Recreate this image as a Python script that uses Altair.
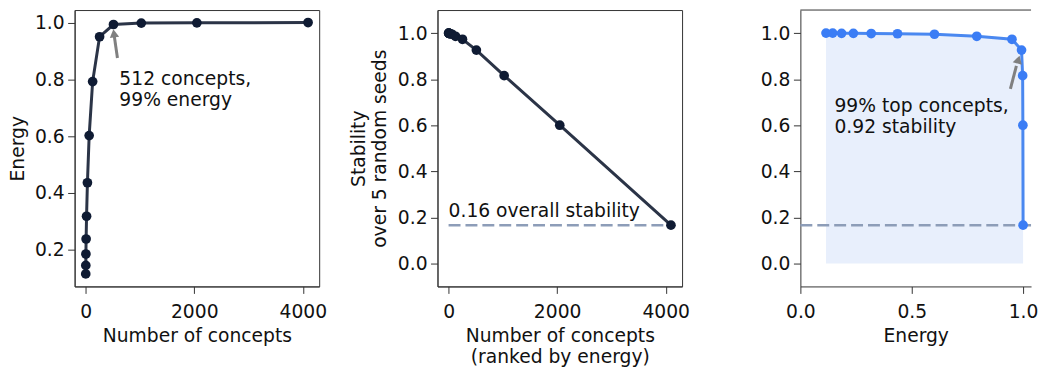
import altair as alt
import pandas as pd

# ---- data ----
concepts = [1, 2, 4, 8, 16, 32, 64, 128, 256, 512, 1024, 2048, 4096]
energy = [0.115, 0.145, 0.185, 0.238, 0.318, 0.436, 0.602, 0.792, 0.950, 0.993, 0.998, 0.999, 1.0]
stability = [1.0, 1.0, 0.999, 0.999, 0.998, 0.997, 0.995, 0.986, 0.973, 0.926, 0.815, 0.600, 0.166]
overall_stability = 0.166

ann1_lines = ["512 concepts,", "99% energy"]
ann2_lines = ["0.16 overall stability"]
ann3_lines = ["99% top concepts,", "0.92 stability"]

df = pd.DataFrame({"concepts": concepts, "energy": energy, "stability": stability})

DARK_LINE = "#2b3447"
DARK_PT = "#0f1b33"
BLUE_LINE = "#4a88f0"
BLUE_PT = "#3b7df5"
FILL = "#e8effc"
DASH = "#8d9db8"
ARROW = "#808080"
TXT = "#111111"
SPINE = "#333333"
FONT = "DejaVu Sans"
FS = 18.8

W = 246
W3 = 232
H = 278

# ---------- panel 1 ----------
xs1 = alt.Scale(domain=[-204, 4301], nice=False, zero=False)
ys1 = alt.Scale(domain=[0.071, 1.044], nice=False, zero=False)
ax1 = alt.Axis(values=[0, 2000, 4000], format="d", title="Number of concepts")
ay1 = alt.Axis(values=[0.2, 0.4, 0.6, 0.8, 1.0], format=".1f", title="Energy", titlePadding=7)


def X1(f):
    return alt.X(f, type="quantitative", scale=xs1, axis=ax1)


def Y1(f):
    return alt.Y(f, type="quantitative", scale=ys1, axis=ay1)


base1 = alt.Chart(df)
l1 = base1.mark_line(color=DARK_LINE, strokeWidth=3).encode(x=X1("concepts"), y=Y1("energy"))
p1 = base1.mark_circle(color=DARK_PT, size=95, opacity=1).encode(x=X1("concepts"), y=Y1("energy"))

arr1 = pd.DataFrame({"concepts": [585], "energy": [0.875], "cx2": [527], "ey2": [0.952]})
a1s = alt.Chart(arr1).mark_rule(color=ARROW, strokeWidth=3).encode(
    x=X1("concepts"), y=Y1("energy"), x2="cx2:Q", y2="ey2:Q")
head1 = pd.DataFrame({"concepts": [520], "energy": [0.962]})
a1h = alt.Chart(head1).mark_point(shape="triangle-up", filled=True, color=ARROW, size=90,
                                  opacity=1, angle=352).encode(x=X1("concepts"), y=Y1("energy"))
t1 = pd.DataFrame({"concepts": [620, 620], "energy": [0.800, 0.728], "label": ann1_lines})
tx1 = alt.Chart(t1).mark_text(align="left", baseline="middle", fontSize=FS, font=FONT,
                              color=TXT).encode(x=X1("concepts"), y=Y1("energy"), text="label:N")

panel1 = alt.layer(l1, p1, a1s, a1h, tx1).properties(width=W, height=H)

# ---------- panel 2 ----------
xs2 = alt.Scale(domain=[-204, 4301], nice=False, zero=False)
ys2 = alt.Scale(domain=[-0.1, 1.1], nice=False, zero=False)
ax2 = alt.Axis(values=[0, 2000, 4000], format="d", title=["Number of concepts", "(ranked by energy)"])
ay2 = alt.Axis(values=[0.0, 0.2, 0.4, 0.6, 0.8, 1.0], format=".1f",
               title=["Stability", "over 5 random seeds"])


def X2(f):
    return alt.X(f, type="quantitative", scale=xs2, axis=ax2)


def Y2(f):
    return alt.Y(f, type="quantitative", scale=ys2, axis=ay2)


base2 = alt.Chart(df)
dash2 = pd.DataFrame({"concepts": [0], "c2": [4096], "stability": [overall_stability]})
d2 = alt.Chart(dash2).mark_rule(color=DASH, strokeWidth=2.5, strokeDash=[12, 5]).encode(
    x=X2("concepts"), x2="c2:Q", y=Y2("stability"))
l2 = base2.mark_line(color=DARK_LINE, strokeWidth=3).encode(x=X2("concepts"), y=Y2("stability"))
p2 = base2.mark_circle(color=DARK_PT, size=95, opacity=1).encode(x=X2("concepts"), y=Y2("stability"))
t2 = pd.DataFrame({"concepts": [0], "stability": [0.227], "label": ann2_lines})
tx2 = alt.Chart(t2).mark_text(align="left", baseline="middle", fontSize=FS, font=FONT,
                              color=TXT).encode(x=X2("concepts"), y=Y2("stability"), text="label:N")

panel2 = alt.layer(d2, l2, p2, tx2).properties(width=W, height=H)

# ---------- panel 3 ----------
xs3 = alt.Scale(domain=[0, W3 / 224.0], nice=False, zero=False)
ys3 = alt.Scale(domain=[-0.1, 1.1], nice=False, zero=False)
ax3 = alt.Axis(values=[0.0, 0.5, 1.0], format=".1f", title="Energy")
ay3 = alt.Axis(values=[0.0, 0.2, 0.4, 0.6, 0.8, 1.0], format=".1f", title="")


def X3(f):
    return alt.X(f, type="quantitative", scale=xs3, axis=ax3)


def Y3(f):
    return alt.Y(f, type="quantitative", scale=ys3, axis=ay3)


base3 = alt.Chart(df)
ar3 = base3.mark_area(color=FILL, opacity=1).encode(x=X3("energy"), y=Y3("stability"), y2=alt.datum(0))
d3 = alt.Chart(pd.DataFrame({"stability": [overall_stability]})).mark_rule(
    color=DASH, strokeWidth=2.5, strokeDash=[12, 5]).encode(
    x=alt.value(0), x2=alt.value(W3), y=Y3("stability"))
l3 = base3.mark_line(color=BLUE_LINE, strokeWidth=3).encode(x=X3("energy"), y=Y3("stability"))
p3 = base3.mark_circle(color=BLUE_PT, size=95, opacity=1).encode(x=X3("energy"), y=Y3("stability"))
arr3 = pd.DataFrame({"energy": [0.943], "stability": [0.758], "e2": [0.970], "s2": [0.858]})
a3s = alt.Chart(arr3).mark_rule(color=ARROW, strokeWidth=3).encode(
    x=X3("energy"), y=Y3("stability"), x2="e2:Q", y2="s2:Q")
head3 = pd.DataFrame({"energy": [0.979], "stability": [0.885]})
a3h = alt.Chart(head3).mark_point(shape="triangle-up", filled=True, color=ARROW, size=90,
                                  opacity=1, angle=16).encode(x=X3("energy"), y=Y3("stability"))
t3 = pd.DataFrame({"energy": [0.153, 0.153], "stability": [0.683, 0.590], "label": ann3_lines})
tx3 = alt.Chart(t3).mark_text(align="left", baseline="middle", fontSize=FS, font=FONT,
                              color=TXT).encode(x=X3("energy"), y=Y3("stability"), text="label:N")
top3 = alt.Chart(pd.DataFrame({"k": [0]})).mark_rule(color=SPINE, strokeWidth=1).encode(
    x=alt.value(0), x2=alt.value(W3), y=alt.value(0))

panel3 = alt.layer(ar3, d3, l3, p3, a3s, a3h, tx3, top3).properties(
    width=W3, height=H, view=alt.ViewBackground(stroke="transparent"))

chart = alt.hconcat(panel1, panel2, panel3, spacing=119, bounds="flush",
                    padding={"left": 0, "top": 0, "right": 0, "bottom": 0}).configure(
    font=FONT).configure_axis(
    labelFontSize=FS, titleFontSize=FS, titleFontWeight="normal",
    labelFont=FONT, titleFont=FONT, tickSize=7, tickWidth=1, tickColor=SPINE,
    domainColor=SPINE, domainWidth=1, labelColor=TXT, titleColor=TXT, grid=False,
    labelPadding=4, labelFlush=False, labelOverlap=False, titlePadding=6,
    titleLineHeight=21).configure_axisX(labelPadding=9).configure_axisY(
    labelPadding=3.5, titlePadding=8).configure_view(stroke=SPINE, strokeWidth=1)

chart.save("out.html", embed_options={"renderer": "svg", "actions": False})
